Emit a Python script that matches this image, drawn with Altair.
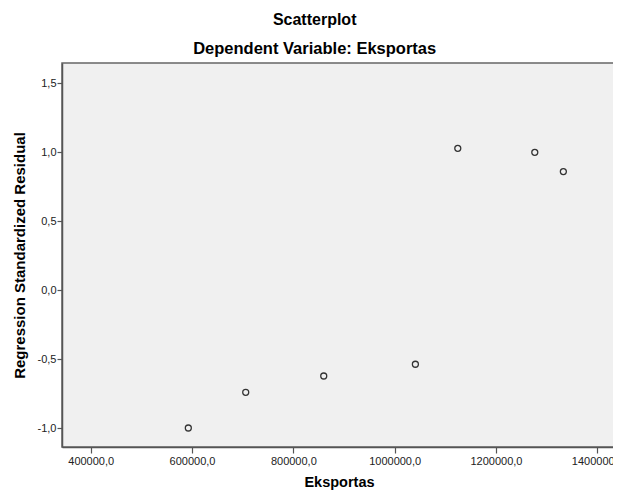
import altair as alt
import pandas as pd

eksportas = [592700, 706000, 860000, 1040900, 1124600, 1276600, 1333000]
residual = [-0.998, -0.739, -0.621, -0.536, 1.029, 1.000, 0.860]

x_ticks = [400000, 600000, 800000, 1000000, 1200000, 1400000]
y_ticks = [-1.0, -0.5, 0.0, 0.5, 1.0, 1.5]

df = pd.DataFrame({"Eksportas": eksportas, "Residual": residual})

FONT = "Liberation Sans"
label_expr = "replace(replace(format(datum.value, '.1f'), '.', ','), '\u2212', '-')"

chart = alt.Chart(df).mark_point(
    filled=False, shape="circle", size=36, stroke="#333333", strokeWidth=1.3, opacity=1
).encode(
    x=alt.X("Eksportas:Q",
            scale=alt.Scale(domain=[343348, 1436913], nice=False, zero=False),
            axis=alt.Axis(values=x_ticks, labelExpr=label_expr, title="Eksportas",
                          grid=False, tickSize=6, labelPadding=2, titlePadding=9,
                          titleFontSize=14.5)),
    y=alt.Y("Residual:Q",
            scale=alt.Scale(domain=[-1.1355, 1.647], nice=False, zero=False),
            axis=alt.Axis(values=y_ticks, labelExpr=label_expr,
                          title="Regression Standardized Residual",
                          grid=False, tickSize=5, labelPadding=1, titlePadding=10,
                          titleFontSize=15)),
).properties(
    width=554,
    height=384,
    title=alt.TitleParams(
        text="Scatterplot",
        subtitle="Dependent Variable: Eksportas",
        anchor="middle", frame="bounds", dx=-3,
        font=FONT, fontSize=16, fontWeight="bold", color="#000000",
        subtitleFont=FONT, subtitleFontSize=16.5, subtitleFontWeight="bold",
        subtitleColor="#000000", subtitlePadding=13, offset=6,
    ),
    autosize=alt.AutoSizeParams(type="none"),
    padding={"left": 54, "top": 55, "right": -3, "bottom": 44},
).configure_view(
    fill="#f0f0f0", stroke="#666666", strokeWidth=1.5
).configure_axis(
    domainColor="#555555", domainWidth=1.5, tickColor="#555555", tickWidth=1.2,
    labelFont=FONT, labelFontSize=11, labelColor="#222222",
    titleFont=FONT, titleFontWeight="bold", titleColor="#000000",
)

chart.save("out.html", embed_options={"renderer": "svg", "actions": False})
